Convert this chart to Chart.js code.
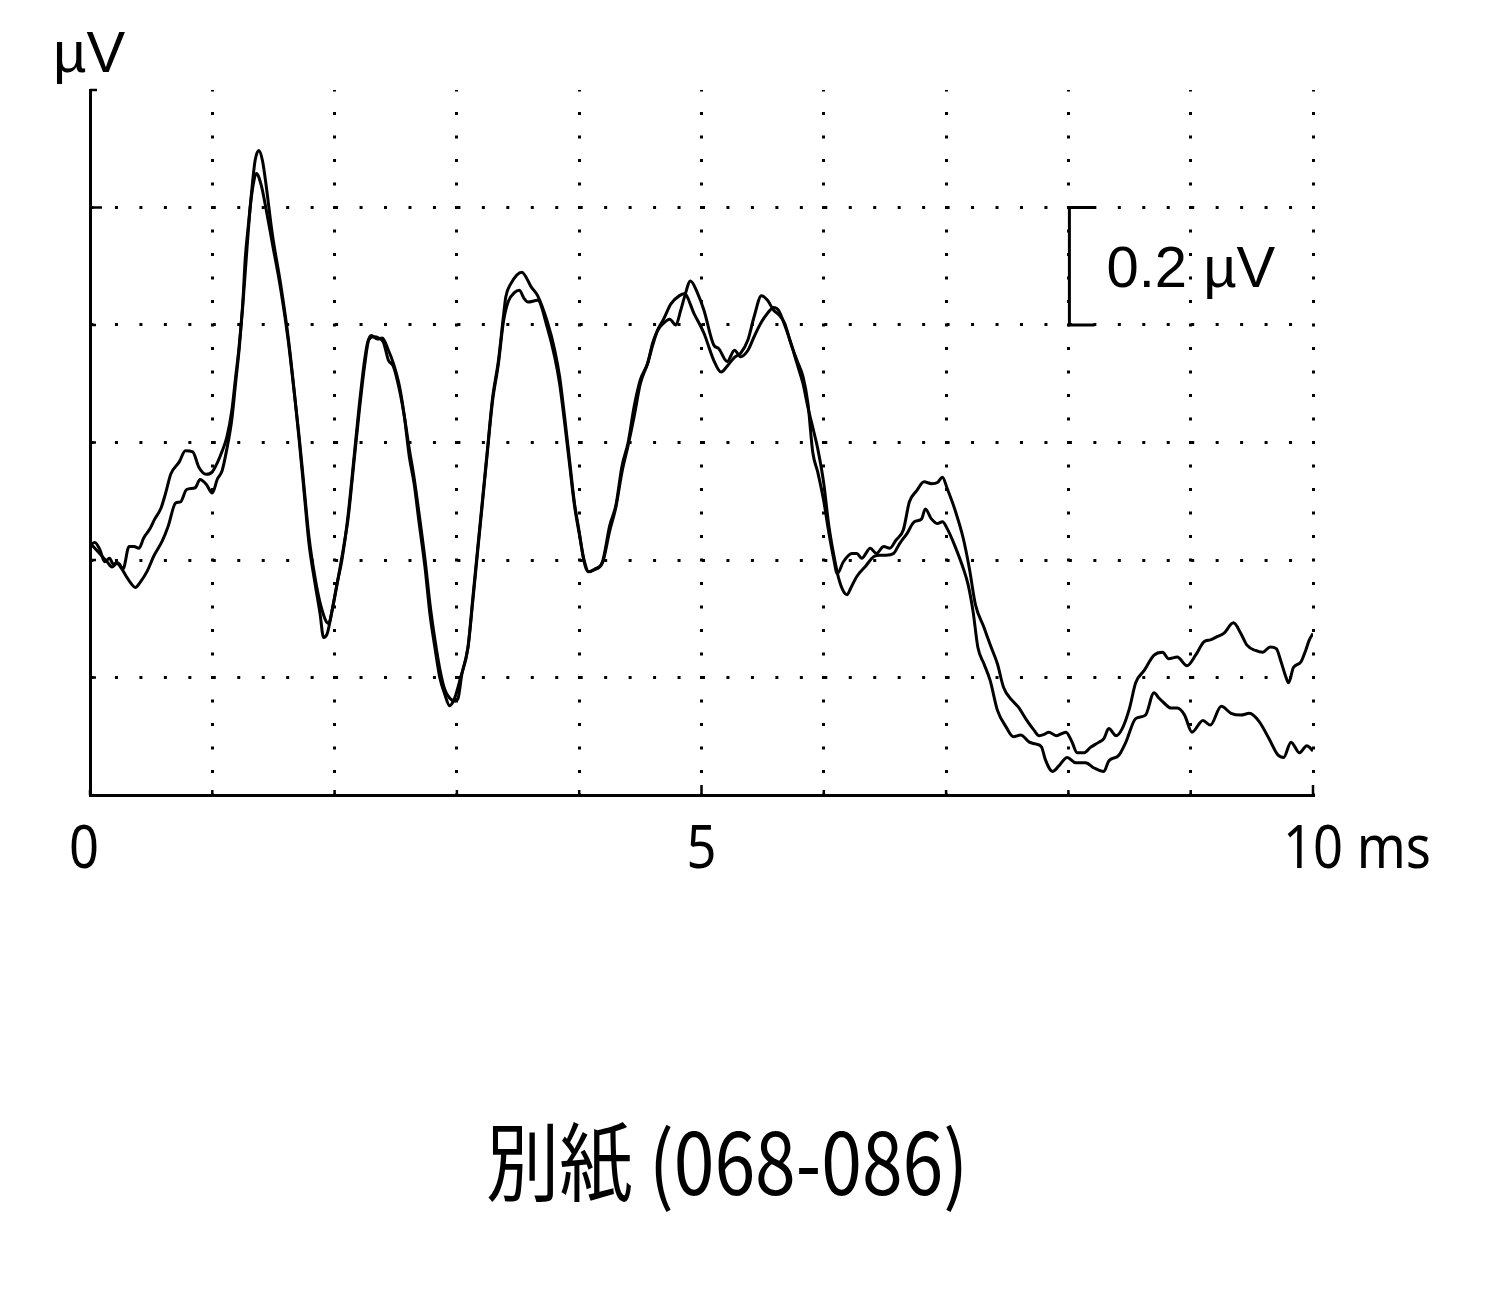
<!DOCTYPE html>
<html>
<head>
<meta charset="utf-8">
<title>別紙 (068-086)</title>
<script src="https://cdn.jsdelivr.net/npm/chart.js@4.4.1/dist/chart.umd.min.js"></script>
<style>
    html, body { margin: 0; padding: 0; background: #fff; }
    canvas { display: block; }
</style>
</head>
<body>
<canvas id="erpChart" width="1500" height="1300"></canvas>
<script>
// two recordings, [time in ms, amplitude in µV] (baseline at 0)
const traceA = [
    [0, 0.026], [0.04, 0.03], [0.08, 0.018], [0.12, -0.003], [0.16, 0.003], [0.19, -0.007],
    [0.23, -0.005], [0.27, -0.015], [0.32, 0.023], [0.36, 0.023], [0.40, 0.02], [0.44, 0.038],
    [0.49, 0.053], [0.53, 0.07], [0.58, 0.088], [0.62, 0.115], [0.66, 0.146], [0.73, 0.167],
    [0.78, 0.186], [0.84, 0.184], [0.89, 0.158], [0.95, 0.146], [1.00, 0.15], [1.04, 0.165],
    [1.08, 0.185], [1.12, 0.21], [1.16, 0.255], [1.19, 0.31], [1.22, 0.365], [1.25, 0.44],
    [1.27, 0.515], [1.30, 0.58], [1.33, 0.645], [1.35, 0.68], [1.38, 0.697], [1.41, 0.68],
    [1.44, 0.638], [1.49, 0.556], [1.56, 0.468], [1.62, 0.38], [1.67, 0.287], [1.71, 0.205],
    [1.75, 0.117], [1.79, 0.029], [1.84, -0.04], [1.88, -0.09], [1.91, -0.132], [1.94, -0.125],
    [1.98, -0.085], [2.02, -0.04], [2.06, 0.0], [2.11, 0.076], [2.16, 0.177], [2.20, 0.26],
    [2.245, 0.34], [2.27, 0.37], [2.30, 0.382], [2.35, 0.376], [2.39, 0.378], [2.44, 0.357],
    [2.48, 0.335], [2.53, 0.296], [2.57, 0.245], [2.61, 0.177], [2.65, 0.13], [2.69, 0.065],
    [2.74, -0.014], [2.78, -0.093], [2.82, -0.149], [2.86, -0.2], [2.90, -0.228], [2.94, -0.248],
    [2.98, -0.236], [3.03, -0.2], [3.09, -0.149], [3.13, -0.065], [3.17, 0.02], [3.21, 0.104],
    [3.25, 0.189], [3.29, 0.273], [3.34, 0.34], [3.38, 0.414], [3.40, 0.448], [3.44, 0.47],
    [3.53, 0.49], [3.61, 0.464], [3.66, 0.45], [3.74, 0.405], [3.80, 0.357], [3.84, 0.312],
    [3.88, 0.245], [3.92, 0.172], [3.96, 0.099], [4.00, 0.048], [4.04, -0.003], [4.07, -0.02],
    [4.12, -0.017], [4.19, -0.003], [4.25, 0.059], [4.30, 0.093], [4.35, 0.16], [4.40, 0.2],
    [4.45, 0.262], [4.50, 0.307], [4.56, 0.335], [4.60, 0.369], [4.64, 0.391], [4.69, 0.41],
    [4.75, 0.436], [4.82, 0.45], [4.86, 0.453], [4.94, 0.419], [5.02, 0.386], [5.10, 0.34],
    [5.16, 0.32], [5.21, 0.33], [5.27, 0.345], [5.32, 0.352], [5.38, 0.375], [5.43, 0.414],
    [5.49, 0.45], [5.54, 0.442], [5.59, 0.425], [5.63, 0.418], [5.68, 0.403], [5.73, 0.369],
    [5.78, 0.34], [5.83, 0.312], [5.87, 0.267], [5.91, 0.183], [5.95, 0.15], [6.00, 0.1],
    [6.04, 0.048], [6.08, 0.003], [6.11, -0.023], [6.16, -0.003], [6.23, 0.011], [6.27, 0.011],
    [6.31, 0.003], [6.38, 0.02], [6.43, 0.011], [6.49, 0.023], [6.54, 0.02], [6.59, 0.034],
    [6.65, 0.051], [6.70, 0.099], [6.76, 0.118], [6.82, 0.133], [6.88, 0.13], [6.93, 0.132],
    [6.97, 0.141], [7.01, 0.121], [7.07, 0.087], [7.14, 0.037], [7.19, -0.014], [7.24, -0.076],
    [7.31, -0.115], [7.36, -0.144], [7.42, -0.177], [7.47, -0.217], [7.54, -0.239], [7.59, -0.25],
    [7.66, -0.273], [7.72, -0.29], [7.76, -0.299], [7.81, -0.296], [7.84, -0.293], [7.90, -0.299],
    [7.98, -0.293], [8.03, -0.31], [8.07, -0.328], [8.13, -0.328], [8.18, -0.319], [8.25, -0.31],
    [8.29, -0.304], [8.33, -0.287], [8.39, -0.299], [8.44, -0.287], [8.50, -0.252], [8.55, -0.209],
    [8.62, -0.188], [8.70, -0.162], [8.77, -0.157], [8.82, -0.168], [8.89, -0.165], [8.97, -0.18],
    [9.04, -0.162], [9.11, -0.139], [9.16, -0.136], [9.22, -0.13], [9.27, -0.125], [9.35, -0.107],
    [9.41, -0.125], [9.46, -0.145], [9.53, -0.154], [9.59, -0.157], [9.65, -0.148], [9.70, -0.151],
    [9.74, -0.174], [9.78, -0.2], [9.80, -0.209], [9.84, -0.183], [9.90, -0.174], [9.94, -0.154],
    [9.97, -0.136], [10.0, -0.125]
];

const traceB = [
    [0, 0.029], [0.04, 0.02], [0.10, 0.006], [0.14, -0.003], [0.18, -0.012], [0.22, -0.006],
    [0.26, -0.015], [0.30, -0.029], [0.34, -0.041], [0.37, -0.047], [0.41, -0.038], [0.47, -0.018],
    [0.52, 0.006], [0.59, 0.032], [0.64, 0.058], [0.70, 0.097], [0.74, 0.099], [0.79, 0.12],
    [0.86, 0.123], [0.90, 0.137], [0.95, 0.129], [1.00, 0.114], [1.04, 0.137], [1.08, 0.152],
    [1.12, 0.19], [1.16, 0.24], [1.19, 0.30], [1.22, 0.36], [1.25, 0.435], [1.28, 0.52],
    [1.31, 0.6], [1.34, 0.645], [1.36, 0.658], [1.40, 0.638], [1.44, 0.597], [1.49, 0.54],
    [1.56, 0.46], [1.62, 0.375], [1.67, 0.285], [1.71, 0.21], [1.75, 0.125], [1.79, 0.04],
    [1.84, -0.03], [1.89, -0.08], [1.95, -0.108], [1.99, -0.075], [2.03, -0.03], [2.08, 0.03],
    [2.11, 0.07], [2.16, 0.17], [2.20, 0.25], [2.245, 0.33], [2.28, 0.375], [2.32, 0.38],
    [2.36, 0.378], [2.40, 0.37], [2.44, 0.34], [2.48, 0.33], [2.53, 0.29], [2.57, 0.245],
    [2.61, 0.19], [2.65, 0.14], [2.69, 0.08], [2.74, 0.0], [2.78, -0.075], [2.82, -0.135],
    [2.86, -0.185], [2.90, -0.22], [2.94, -0.235], [2.98, -0.24], [3.01, -0.235], [3.04, -0.195],
    [3.09, -0.15], [3.13, -0.07], [3.17, 0.015], [3.21, 0.1], [3.25, 0.185], [3.29, 0.268],
    [3.34, 0.335], [3.38, 0.405], [3.42, 0.44], [3.47, 0.455], [3.51, 0.459], [3.55, 0.445],
    [3.58, 0.439], [3.66, 0.442], [3.74, 0.395], [3.80, 0.345], [3.84, 0.3], [3.88, 0.235],
    [3.92, 0.165], [3.96, 0.095], [4.00, 0.045], [4.04, 0.0], [4.08, -0.02], [4.13, -0.015],
    [4.19, -0.005], [4.25, 0.05], [4.30, 0.09], [4.35, 0.15], [4.40, 0.195], [4.45, 0.245],
    [4.50, 0.3], [4.56, 0.335], [4.60, 0.365], [4.64, 0.39], [4.69, 0.403], [4.74, 0.41],
    [4.79, 0.4], [4.83, 0.425], [4.86, 0.447], [4.91, 0.475], [4.97, 0.453], [5.02, 0.425],
    [5.10, 0.366], [5.14, 0.36], [5.21, 0.338], [5.27, 0.357], [5.32, 0.346], [5.38, 0.357],
    [5.43, 0.38], [5.49, 0.405], [5.54, 0.42], [5.59, 0.43], [5.63, 0.425], [5.68, 0.4],
    [5.73, 0.37], [5.78, 0.335], [5.83, 0.3], [5.87, 0.26], [5.92, 0.217], [5.95, 0.19],
    [6.00, 0.13], [6.04, 0.06], [6.08, 0.01], [6.12, -0.03], [6.16, -0.053], [6.19, -0.059],
    [6.22, -0.048], [6.27, -0.028], [6.34, -0.011], [6.41, 0.006], [6.46, 0.008], [6.51, 0.008],
    [6.57, 0.011], [6.62, 0.028], [6.68, 0.045], [6.74, 0.065], [6.80, 0.07], [6.83, 0.087],
    [6.88, 0.07], [6.93, 0.062], [6.97, 0.065], [7.01, 0.053], [7.07, 0.025], [7.14, -0.014],
    [7.18, -0.042], [7.22, -0.087], [7.26, -0.149], [7.31, -0.177], [7.36, -0.205], [7.42, -0.256],
    [7.49, -0.284], [7.55, -0.301], [7.61, -0.298], [7.68, -0.31], [7.73, -0.313], [7.78, -0.318],
    [7.81, -0.339], [7.87, -0.36], [7.92, -0.351], [7.99, -0.336], [8.06, -0.345], [8.14, -0.345],
    [8.21, -0.354], [8.29, -0.36], [8.33, -0.342], [8.41, -0.333], [8.47, -0.31], [8.55, -0.27],
    [8.63, -0.264], [8.70, -0.226], [8.74, -0.235], [8.78, -0.243], [8.84, -0.252], [8.89, -0.252],
    [8.95, -0.264], [9.01, -0.293], [9.10, -0.273], [9.16, -0.281], [9.25, -0.249], [9.33, -0.261],
    [9.41, -0.264], [9.48, -0.261], [9.56, -0.275], [9.64, -0.304], [9.71, -0.331], [9.76, -0.336],
    [9.82, -0.31], [9.89, -0.328], [9.95, -0.316], [10.0, -0.325]
];

// axis ticks and labels
const xTicks = [0, 1, 2, 3, 4, 5, 6, 7, 8, 9, 10];
const xLabels = [[0, '0'], [5, '5'], [10, '10']];
const yTicks = [0.8, 0.6, 0.4, 0.2, 0, -0.2];
const scaleBar = { time: 8, from: 0.4, to: 0.6, label: '0.2 µV' };
const yUnit = 'µV';
const xUnit = 'ms';
const caption = '別紙 (068-086)';

function toPoints(trace) {
    return trace.map(p => ({ x: p[0], y: p[1] }));
}

function near(a, b) {
    return Math.abs(a - b) < 1e-6;
}

// everything the library does not draw by itself: inward ticks, labels, scale bar, caption
const decorations = {
    id: 'decorations',
    afterDraw(chart) {
        const ctx = chart.ctx;
        const xs = chart.scales.x;
        const ys = chart.scales.y;
        const left = chart.chartArea.left;
        const bottom = chart.chartArea.bottom;

        ctx.save();
        ctx.strokeStyle = '#000';
        ctx.fillStyle = '#000';
        ctx.lineWidth = 2.5;
        ctx.lineCap = 'butt';

        // inward ticks on the time axis
        xTicks.forEach(t => {
            const px = xs.getPixelForValue(t);
            const len = (t === 5 || t === 10) ? 10 : 5;
            ctx.beginPath();
            ctx.moveTo(px, bottom);
            ctx.lineTo(px, bottom - len);
            ctx.stroke();
        });

        // inward ticks on the amplitude axis
        yTicks.forEach(v => {
            const py = ys.getPixelForValue(v);
            let len = 6;
            if (near(v, 0.6)) len = 12;
            if (near(v, 0.8)) len = 7;
            ctx.beginPath();
            ctx.moveTo(left, py);
            ctx.lineTo(left + len, py);
            ctx.stroke();
        });

        // time labels (narrow face)
        ctx.font = '60px "Noto Sans"';
        ctx.textBaseline = 'alphabetic';
        const squeeze = 0.875;
        xLabels.forEach(([t, text]) => {
            let px = xs.getPixelForValue(t);
            if (t === 0) px -= 6;
            ctx.save();
            ctx.translate(px, bottom + 73);
            ctx.scale(squeeze, 1);
            ctx.textAlign = 'center';
            ctx.fillText(text, 0, 0);
            if (t === 10) {
                const w = ctx.measureText(text).width;
                ctx.textAlign = 'left';
                ctx.fillText(' ' + xUnit, w / 2, 0);
            }
            ctx.restore();
        });

        // unit of the amplitude axis
        ctx.font = '58px "Liberation Sans", Arial, sans-serif';
        ctx.textAlign = 'left';
        ctx.fillText(yUnit, 53, 72);

        // calibration bracket
        const bx = xs.getPixelForValue(scaleBar.time) + 1;
        const bTop = ys.getPixelForValue(scaleBar.to);
        const bBot = ys.getPixelForValue(scaleBar.from);
        ctx.lineWidth = 3;
        ctx.beginPath();
        ctx.moveTo(bx + 25, bTop);
        ctx.lineTo(bx, bTop);
        ctx.lineTo(bx, bBot);
        ctx.lineTo(bx + 25, bBot);
        ctx.stroke();
        ctx.font = '58px "Liberation Sans", Arial, sans-serif';
        ctx.textBaseline = 'middle';
        ctx.fillText(scaleBar.label, bx + 37, (bTop + bBot) / 2 + 5);

        // caption under the chart
        ctx.font = '86px "Noto Sans CJK JP", "Noto Sans", sans-serif';
        ctx.textBaseline = 'alphabetic';
        ctx.textAlign = 'center';
        const cw = ctx.measureText(caption).width;
        const sx = Math.min(1, 482 / cw);
        ctx.translate(727, 1195);
        ctx.scale(sx, 1);
        ctx.fillText(caption, 0, 0);

        ctx.restore();
    }
};

document.addEventListener('DOMContentLoaded', function () {
    const ctx = document.getElementById('erpChart').getContext('2d');

    new Chart(ctx, {
        type: 'line',
        data: {
            datasets: [
                {
                    label: 'A',
                    data: toPoints(traceA),
                    borderColor: '#000',
                    borderWidth: 3,
                    pointRadius: 0,
                    cubicInterpolationMode: 'monotone',
                    fill: false
                },
                {
                    label: 'B',
                    data: toPoints(traceB),
                    borderColor: '#000',
                    borderWidth: 3,
                    pointRadius: 0,
                    cubicInterpolationMode: 'monotone',
                    fill: false
                }
            ]
        },
        options: {
            responsive: false,
            animation: false,
            devicePixelRatio: 1,
            layout: {
                padding: { left: 90, top: 90, right: 187, bottom: 505 }
            },
            plugins: {
                legend: { display: false },
                tooltip: { enabled: false },
                title: { display: false }
            },
            scales: {
                x: {
                    type: 'linear',
                    min: 0,
                    max: 10,
                    ticks: { display: false, stepSize: 1 },
                    grid: {
                        drawTicks: false,
                        lineWidth: 3,
                        color: c => (c.tick && c.tick.value > 0) ? '#000' : 'rgba(0,0,0,0)'
                    },
                    border: { display: true, color: '#000', width: 3, dash: [3, 20.5], dashOffset: 1.5 }
                },
                y: {
                    min: -0.4,
                    max: 0.8,
                    ticks: { display: false, stepSize: 0.2 },
                    grid: {
                        drawTicks: false,
                        lineWidth: 3,
                        color: c => (c.tick && c.tick.value > -0.3 && c.tick.value < 0.7) ? '#000' : 'rgba(0,0,0,0)'
                    },
                    border: { display: true, color: '#000', width: 3, dash: [3, 21.46], dashOffset: 1.5 }
                }
            }
        },
        plugins: [decorations]
    });
});
</script>
</body>
</html>
